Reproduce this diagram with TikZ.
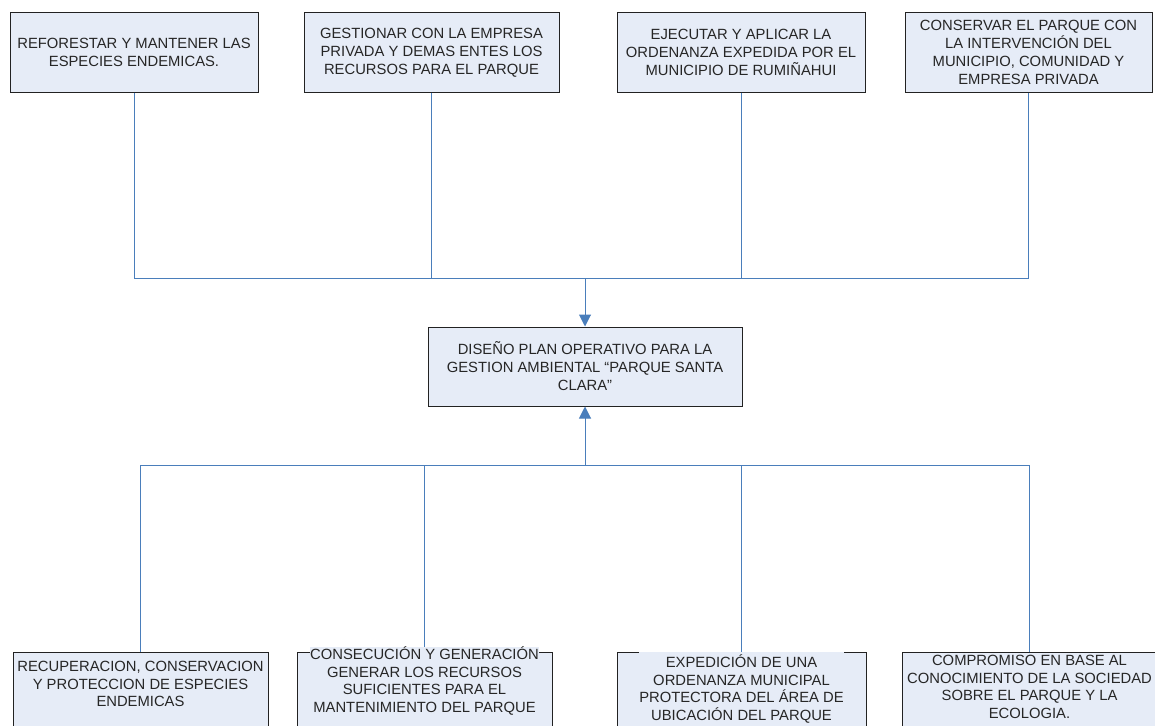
\documentclass[tikz,border=0pt]{standalone}
\usepackage{fontspec}
\setmainfont{Liberation Sans}
\usetikzlibrary{arrows.meta}
\definecolor{boxfill}{HTML}{E6ECF7}
\definecolor{conncol}{HTML}{4A7EBB}
\definecolor{boxline}{HTML}{222222}
\begin{document}
\begin{tikzpicture}[x=1pt,y=-1pt,
  box/.style={draw=boxline,line width=1pt,fill=boxfill,minimum height=79pt,inner sep=0pt,
    align=center,font=\fontsize{14.8}{18}\selectfont,text=black!85},
  lowbox/.style={draw=boxline,line width=1pt,fill=boxfill,minimum height=100pt,inner sep=0pt},
  lowtext/.style={align=center,font=\fontsize{14.8}{17.5}\selectfont,text=black!85,inner sep=0pt},
  conn/.style={draw=conncol,line width=1pt},
  arr/.style={conn,-{Triangle[length=12pt,width=12pt]}}]
\useasboundingbox (0,0) rectangle (1155,725);
% top boxes
\node[box,minimum width=248pt] (t1) at (134,52.5) {REFORESTAR Y MANTENER LAS\\ESPECIES ENDEMICAS.};
\node[box,minimum width=255pt] (t2) at (431.5,52.5) {GESTIONAR CON LA EMPRESA\\PRIVADA Y DEMAS ENTES LOS\\RECURSOS PARA EL PARQUE};
\node[box,minimum width=248pt] (t3) at (741,52.5) {EJECUTAR Y APLICAR LA\\ORDENANZA EXPEDIDA POR EL\\MUNICIPIO DE RUMIÑAHUI};
\node[box,minimum width=247pt] (t4) at (1028.5,52.5) {CONSERVAR EL PARQUE CON\\LA INTERVENCIÓN DEL\\MUNICIPIO, COMUNIDAD Y\\EMPRESA PRIVADA};
% center box
\node[box,minimum width=314pt] (c) at (585,366.5) {DISEÑO PLAN OPERATIVO PARA LA\\GESTION AMBIENTAL “PARQUE SANTA\\CLARA”};
% bottom boxes
\node[lowbox,minimum width=255pt] (b1) at (140.5,702) {};
\node[lowbox,minimum width=255pt] (b2) at (424.5,702) {};
\node[lowbox,minimum width=249pt] (b3) at (741.5,702) {};
\node[lowbox,minimum width=255pt] (b4) at (1029.5,702) {};
% junctions
\coordinate (j1) at (585,278);
\coordinate (j2) at (585,465);
% top connectors
\draw[conn] (t1.south) -- (t1.south |- j1);
\draw[conn] (t2.south) -- (t2.south |- j1);
\draw[conn] (t3.south) -- (t3.south |- j1);
\draw[conn] (t4.south) -- (t4.south |- j1);
\draw[conn] (t1.south |- j1) -- (t4.south |- j1);
\draw[arr] (j1) -- (c.north);
% bottom connectors
\draw[conn] (b1.north) -- (b1.north |- j2);
\draw[conn] (b2.north) -- (b2.north |- j2);
\draw[conn] (b3.north) -- (b3.north |- j2);
\draw[conn] (b4.north) -- (b4.north |- j2);
\draw[conn] (b1.north |- j2) -- (b4.north |- j2);
\draw[arr] (j2) -- (c.south);
% bottom texts (drawn over the box tops)
\node[lowtext] (b1t) at (140.5,684) {RECUPERACION, CONSERVACION\\Y PROTECCION DE ESPECIES\\ENDEMICAS};
\node[lowtext,fill=boxfill] (b2t) at (424.5,681) {CONSECUCIÓN Y GENERACIÓN\\GENERAR LOS RECURSOS\\SUFICIENTES PARA EL\\MANTENIMIENTO DEL PARQUE};
\node[lowtext,fill=boxfill,inner ysep=3pt] (b3t) at (741.5,689) {EXPEDICIÓN DE UNA\\ORDENANZA MUNICIPAL\\PROTECTORA DEL ÁREA DE\\UBICACIÓN DEL PARQUE};
\node[lowtext] (b4t) at (1029.5,687) {COMPROMISO EN BASE AL\\CONOCIMIENTO DE LA SOCIEDAD\\SOBRE EL PARQUE Y LA\\ECOLOGIA.};
\end{tikzpicture}
\end{document}
